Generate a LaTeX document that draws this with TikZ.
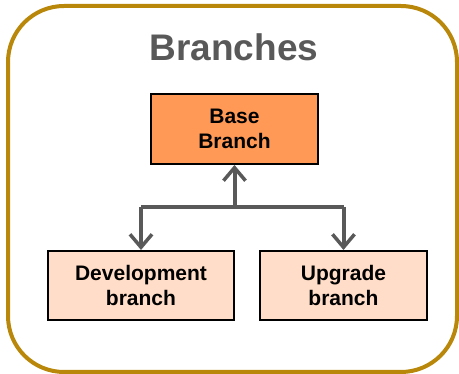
\documentclass[tikz,border=0pt]{standalone}
\usepackage{fontspec}
\setmainfont{Liberation Sans}
\usetikzlibrary{arrows.meta}
\definecolor{frame}{RGB}{185,135,10}
\definecolor{conngray}{RGB}{89,89,89}
\definecolor{basefill}{RGB}{255,153,85}
\definecolor{leaffill}{RGB}{255,221,200}
\tikzset{
  branchbox/.style={draw=black, line width=2pt, inner sep=0pt, align=center,
    font=\fontsize{21}{24.5}\selectfont\bfseries, text=black},
  conn/.style={draw=conngray, line width=4pt},
  connarrow/.style={conn, -{Straight Barb[length=13pt,width=22pt,line width=3.5pt]}}
}
\begin{document}
\begin{tikzpicture}[x=1pt,y=-1pt]
\useasboundingbox (0,0) rectangle (459,374);
\draw[frame, line width=4pt, rounded corners=56pt] (8,6) rectangle (457,372);
\node[font=\fontsize{37}{40}\selectfont\bfseries, text=conngray] (title) at (234,47) {Branches};
\node[branchbox, fill=basefill, minimum width=167pt, minimum height=70pt] (base) at (234.5,129) {Base\\Branch};
\node[branchbox, fill=leaffill, minimum width=186pt, minimum height=69pt] (dev) at (141,285.5) {Development\\branch};
\node[branchbox, fill=leaffill, minimum width=167pt, minimum height=69pt] (upg) at (343.5,285.5) {Upgrade\\branch};
\coordinate (junc) at (234.5,207);
\coordinate (jl) at (141,207);
\coordinate (jr) at (343.5,207);
\draw[conn] (jl) -- (jr);
\draw[connarrow] (junc) -- (base.south);
\draw[connarrow] (jl) -- (dev.north);
\draw[connarrow] (jr) -- (upg.north);
\end{tikzpicture}
\end{document}
